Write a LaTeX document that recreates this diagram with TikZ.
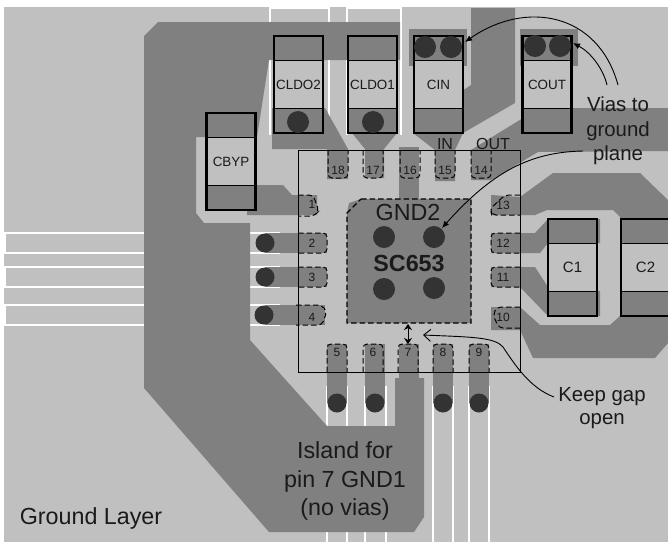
\documentclass[tikz,border=0pt]{standalone}
\usepackage{fontspec}
\setmainfont{Liberation Sans}
\usetikzlibrary{arrows.meta}
\definecolor{boardgray}{HTML}{C0C0C0}
\definecolor{coppergray}{HTML}{808080}
\definecolor{viagray}{HTML}{333333}
\definecolor{inkgray}{HTML}{1A1A1A}

\begin{document}
\begin{tikzpicture}[x=1pt, y=-1pt]
\tikzset{
    copper/.style={fill=coppergray},
    gapline/.style={white, line width=1.2pt},
    via/.style={circle, fill=viagray, inner sep=0pt, minimum size=19pt},
    bigvia/.style={circle, fill=viagray, inner sep=0pt, minimum size=22pt},
    capbox/.style={rectangle, fill=boardgray, inner sep=0pt, outer sep=0pt, minimum width=49pt, minimum height=97pt, text=inkgray, font=\fontsize{13.4}{15}\selectfont},
    pinline/.style={black, line width=1pt, dash pattern=on 5.5pt off 3pt, rounded corners=4pt},
    pinlabel/.style={inner sep=0pt, text=inkgray, font=\fontsize{12}{14}\selectfont},
    note/.style={align=center, inner sep=0pt, text=inkgray, font=\fontsize{20.4}{24.5}\selectfont},
    bignote/.style={align=center, inner sep=0pt, text=inkgray, font=\fontsize{23.3}{28.5}\selectfont}
}
  \useasboundingbox (0,0) rectangle (668,542);
  \fill[boardgray] (4,7) rectangle (668,542);

  % clearance lines in the ground layer
  \foreach \ya/\yb in {233/253, 267/287, 305/325} {
    \draw[gapline] (144,\ya) -- (5,\ya) -- (5,\yb) -- (144,\yb);
    \draw[gapline] (250,\ya) -- (280,\ya);
    \draw[gapline] (250,\yb) -- (280,\yb);
  }
  \foreach \x in {327, 347, 365, 386, 433, 453, 469, 489} {
    \draw[gapline] (\x,386) -- (\x,542);
  }
  \draw[gapline] (270,135) -- (270,8) -- (329,8) -- (329,135);
  \draw[gapline] (347,135) -- (347,8) -- (401,8) -- (401,135);

  % copper
  \fill[copper] (144,36) -- (158,22) -- (400,22) -- (400,60) -- (269,60) -- (257,137) -- (196,137)
    -- (196,213) -- (204,223) -- (250,223) -- (250,340) -- (327,426) -- (395,426) -- (395,378)
    -- (424,378) -- (424,517) -- (414,532) -- (269,532) -- (144,388) -- cycle;
  \fill[copper] (272,108) -- (325,108) -- (348,149) -- (348,179) -- (327,179) -- (327,149) -- (272,149) -- cycle;
  \fill[copper] (347,108) -- (397,108) -- (397,133) -- (384,149) -- (384,178) -- (365,178) -- (365,149) -- (352,133) -- (347,133) -- cycle;
  \fill[copper] (399,147) rectangle (419,200);
  \fill[copper] (413,108) -- (463,108) -- (463,133) -- (455,150) -- (455,181) -- (435,181) -- (435,150) -- (413,133) -- cycle;
  \fill[copper] (471,8) -- (515,8) -- (515,103) -- (463,133) -- (463,108) -- (438,107) -- (471,85) -- cycle;
  \fill[copper] (409,29) rectangle (467,66);
  \fill[copper] (520,29) rectangle (578,66);
  \fill[copper] (523,108) -- (668,108) -- (668,151) -- (538,152) -- (491,180) -- (471,180) -- (471,150) -- (523,118) -- cycle;
  \fill[copper] (491,195) -- (520,197) -- (553,173) -- (640,173) -- (668,200) -- (668,343) -- (655,358) -- (533,358)
    -- (520,330) -- (491,330) -- (491,307) -- (520,307) -- (540,325) -- (610,325) -- (620,316) -- (620,217)
    -- (613,210) -- (547,210) -- (535,215) -- (491,215) -- cycle;
  \fill[copper] (491,233) -- (535,233) -- (548,219) -- (600,219) -- (600,243) -- (548,243) -- (540,253) -- (491,253) -- cycle;
  \fill[copper] (491,267) -- (535,267) -- (548,287) -- (600,291) -- (600,316) -- (548,316) -- (520,287) -- (491,287) -- cycle;
  \fill[copper] (247,185) -- (283,185) -- (292,195) -- (317,195) -- (317,215) -- (247,215) -- cycle;
  \foreach \y in {233, 267} {
    \fill[copper] (265,\y) rectangle (327,\y+20);
  }
  \fill[copper] (265,305) rectangle (325,325);
  \foreach \x in {327, 365, 433, 469} {
    \fill[copper] (\x,344) rectangle (\x+20,403);
  }
  \fill[copper] (399,344) rectangle (419,380);
  \fill[copper] (347,213) -- (349,203) -- (361,199) -- (471,199) -- (471,323) -- (347,323) -- cycle;

  % package outline
  \draw[black, line width=1pt] (298,150) rectangle (520,372);

  % capacitors
  \foreach \n/\lab/\x/\y in {cldotwo/CLDO2/298.5/84.5, cldoone/CLDO1/372.5/84.5, cin/CIN/438.5/84.5, cout/COUT/547/84.5, cbyp/CBYP/231/161.5} {
    \node[capbox] (\n) at (\x,\y) {\lab};
    \draw[copper, draw=black, line width=1pt] (\n.north west) rectangle ([yshift=-24.5pt]\n.north east);
    \draw[copper, draw=black, line width=1pt] (\n.south west) rectangle ([yshift=24.5pt]\n.south east);
    \draw[black, line width=2.2pt] (\n.north west) rectangle (\n.south east);
  }
  \foreach \n/\lab/\x in {cone/C1/572.5, ctwo/C2/645.5} {
    \node[capbox, font=\fontsize{15}{17}\selectfont] (\n) at (\x,267.5) {\lab};
    \draw[copper, draw=black, line width=1pt] (\n.north west) rectangle ([yshift=-24.5pt]\n.north east);
    \draw[copper, draw=black, line width=1pt] (\n.south west) rectangle ([yshift=24.5pt]\n.south east);
    \draw[black, line width=2.2pt] (\n.north west) rectangle (\n.south east);
  }

  % vias
  \foreach \n/\x/\y in {va/298/122, vb/373/122, vc/425/47, vd/451/47, ve/535/46, vf/560/46, vg/384/237, vh/434/237, vi/384/289, vj/434/288} {
    \node[bigvia] (\n) at (\x,\y) {};
  }
  \foreach \n/\x/\y in {vk/265/243, vl/265/277, vm/264/315, vn/337/403, vo/375/403, vp/443/403, vq/479/403} {
    \node[via] (\n) at (\x,\y) {};
  }

  % pins
  \foreach \n/\x in {18/338, 17/373, 16/410, 15/445, 14/481} {
    \draw[pinline] (\x-10,150) -- (\x-10,178) -- (\x+10,178) -- (\x+10,150);
    \node[pinlabel] (pin\n) at (\x,170) {\n};
  }
  \foreach \n/\x in {5/337, 6/373, 7/408, 8/443, 9/479} {
    \draw[pinline] (\x-10,372) -- (\x-10,344) -- (\x+10,344) -- (\x+10,372);
    \node[pinlabel] (pin\n) at (\x,352) {\n};
  }
  \foreach \n/\y in {2/243, 3/277} {
    \draw[pinline] (298,\y-10) -- (327,\y-10) -- (327,\y+10) -- (298,\y+10);
    \node[pinlabel] (pin\n) at (312,\y) {\n};
  }
  \foreach \n/\y in {12/243, 11/277} {
    \draw[pinline] (520,\y-10) -- (491,\y-10) -- (491,\y+10) -- (520,\y+10);
    \node[pinlabel] (pin\n) at (503,\y) {\n};
  }
  \draw[pinline] (298,195) -- (313,195) -- (319,211) -- (314,216) -- (298,216);
  \node[pinlabel] (pin1) at (312,204) {1};
  \draw[pinline] (296,305) -- (321,305) -- (327,311) -- (322,325) -- (296,325);
  \node[pinlabel] (pin4) at (312,317) {4};
  \draw[pinline] (520,195) -- (505,195) -- (490,209) -- (492,215) -- (520,215);
  \node[pinlabel] (pin13) at (503,205) {13};
  \draw[pinline] (520,307) -- (497,307) -- (493,315) -- (499,328) -- (520,328);
  \node[pinlabel] (pin10) at (503,317) {10};

  % exposed pad
  \draw[black, line width=1.1pt, dash pattern=on 5.5pt off 3pt] (361,199) -- (471,199) -- (471,323) -- (347,323) -- (347,213) -- cycle;

  % labels
  \node[bignote] (gndtwo) at (408,212) {GND2};
  \node[bignote, font=\bfseries\fontsize{23.3}{28}\selectfont] (chip) at (409,263) {SC653};
  \node[inner sep=0pt, text=inkgray, font=\fontsize{16}{18}\selectfont] (inlabel) at (445,144) {IN};
  \node[inner sep=0pt, text=inkgray, font=\fontsize{16}{18}\selectfont] (outlabel) at (493,144) {OUT};
  \node[note] (viasnote) at (618,131) {Vias to\\ground\\plane};
  \node[note, font=\fontsize{20.4}{23}\selectfont] (gapnote) at (602,408) {Keep gap\\open};
  \node[bignote] (island) at (345,481) {Island for\\pin 7 GND1\\(no vias)};
  \node[bignote] (layer) at (91,518) {Ground Layer};

  % arrows
  \coordinate (tipcin) at (465,42);
  \coordinate (tipcout) at (573,43);
  \coordinate (tipvia) at (442,228);
  \coordinate (tipgap) at (423,335);
  \coordinate (gaptop) at (408,324);
  \coordinate (gapbot) at (408,344);
  \coordinate (viasa) at (618,85);
  \coordinate (viasb) at (607,85);
  \coordinate (viasc) at (583,151);
  \coordinate (gapstart) at (554,397);
  \draw[-{Latex[length=7pt,width=6pt]}, line width=0.9pt] (viasa) .. controls (598,12) and (525,0) .. (tipcin);
  \draw[-{Latex[length=7pt,width=6pt]}, line width=0.9pt] (viasb) .. controls (603,68) and (590,52) .. (tipcout);
  \draw[-{Latex[length=7pt,width=6pt]}, line width=0.9pt] (viasc) .. controls (530,152) and (492,172) .. (tipvia);
  \draw[-{Straight Barb[length=7pt,width=12pt]}, line width=0.9pt] (gapstart) .. controls (530,388) and (515,365) .. (503,347) .. controls (495,337) and (470,337) .. (tipgap);
  \draw[{Stealth[length=6pt,width=8pt]}-{Stealth[length=6pt,width=8pt]}, line width=1pt] (gaptop) -- (gapbot);
\end{tikzpicture}
\end{document}
